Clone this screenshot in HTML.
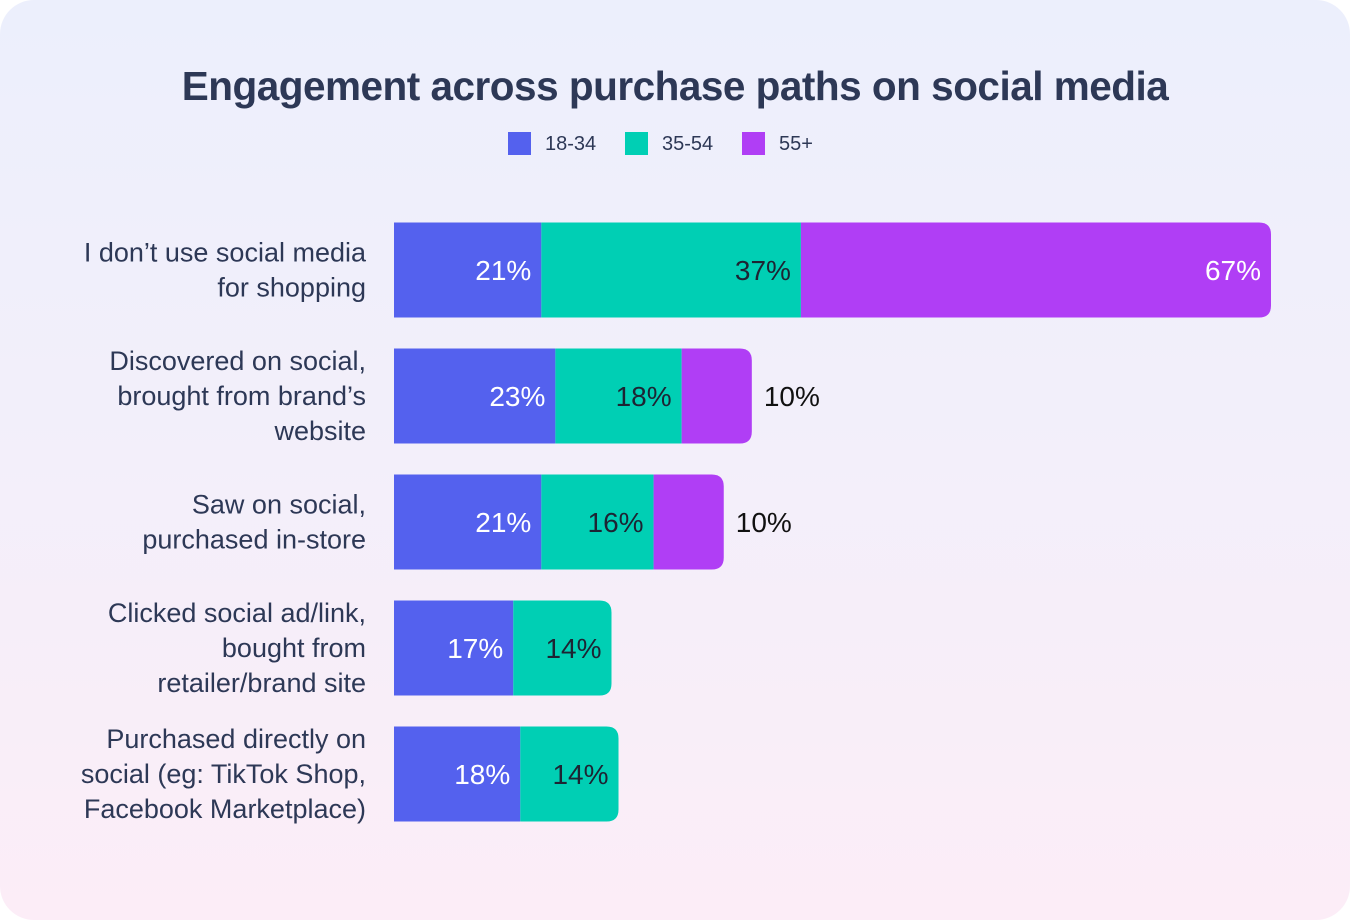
<!DOCTYPE html>
<html><head><meta charset="utf-8">
<style>
html,body{margin:0;padding:0;background:#fff;}
#card{position:absolute;left:0;top:0;width:1350px;height:920px;border-radius:34px;
background:linear-gradient(180deg,#eceffc 0%,#f3effa 50%,#fcedf7 100%);overflow:hidden;
font-family:"Liberation Sans",sans-serif;}
#title{position:absolute;left:0;width:1350px;top:63px;text-align:center;font-size:40.5px;font-weight:bold;color:#2d3856;letter-spacing:-0.5px;}
.leg{position:absolute;top:132px;height:24px;font-size:20px;color:#2d3856;line-height:24px;}
.leg span{display:inline-block;width:23px;height:23px;vertical-align:top;margin-right:14px;}
</style></head><body>
<div id="card">
<div id="title">Engagement across purchase paths on social media</div>
<div class="leg" style="left:508px"><span style="background:#5461ee"></span>18-34</div>
<div class="leg" style="left:625px"><span style="background:#00cfb4"></span>35-54</div>
<div class="leg" style="left:742px"><span style="background:#b03ef5"></span>55+</div>
<svg id="chart" width="1350" height="920" style="position:absolute;left:0;top:0"></svg>
</div>
<script>
const categories=[["I don’t use social media","for shopping"],["Discovered on social,","brought from brand’s","website"],["Saw on social,","purchased in-store"],["Clicked social ad/link,","bought from","retailer/brand site"],["Purchased directly on","social (eg: TikTok Shop,","Facebook Marketplace)"]];
const s1834=[21,23,21,17,18];
const s3554=[37,18,16,14,14];
const s55=[67,10,10,0,0];
const seriesNames=["18-34","35-54","55+"];
const colors=["#5461ee","#00cfb4","#b03ef5"];
const textColors=["#ffffff","#1d2433","#ffffff"];
const NS="http://www.w3.org/2000/svg";
const svg=document.getElementById('chart');
const x0=394,pxPer=7.016;
function xs(v){return x0+v*pxPer;}
function yc(i){return 270+i*126;}
const bh=95,r=12;
function mk(t,a){const e=document.createElementNS(NS,t);for(const k in a)e.setAttribute(k,a[k]);svg.appendChild(e);return e;}
const series=[s1834,s3554,s55];
categories.forEach((cat,i)=>{
  const top=yc(i)-bh/2;
  const lh=35,n=cat.length;
  cat.forEach((ln,j)=>{
    const t=mk('text',{x:366,y:yc(i)-(n-1)*lh/2+j*lh+9,'text-anchor':'end','font-size':27,fill:'#2d3856','font-family':'Liberation Sans, sans-serif'});
    t.textContent=ln;
    
    
  });
  let last=-1;series.forEach((s,k)=>{if(s[i]>0)last=k;});
  let cum=0;
  series.forEach((s,k)=>{
    const v=s[i];if(v<=0)return;
    const a=xs(cum),b=xs(cum+v);cum+=v;
    let p;
    if(k===last){
      p=mk('path',{d:`M${a},${top}H${b-r}Q${b},${top} ${b},${top+r}V${top+bh-r}Q${b},${top+bh} ${b-r},${top+bh}H${a}Z`,fill:colors[k]});
    }else{
      p=mk('rect',{x:a,y:top,width:b-a,height:bh,fill:colors[k]});
    }
    
    
    const w=b-a,inside=w>90;
    const t=mk('text',{x:inside?b-10:b+12,y:yc(i)+10,'text-anchor':inside?'end':'start','font-size':28,fill:inside?textColors[k]:'#111','font-family':'Liberation Sans, sans-serif'});
    t.textContent=v+'%';
    
    
  });
});
</script>
</body></html>
